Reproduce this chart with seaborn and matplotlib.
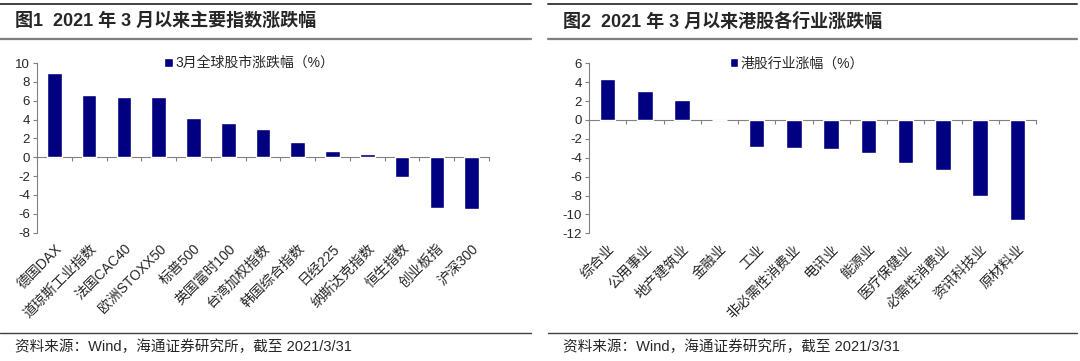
import numpy as np
import pandas as pd
import matplotlib
matplotlib.use('Agg')
import matplotlib.pyplot as plt
from matplotlib.lines import Line2D
import seaborn as sns

sns.set_style('white')
plt.rcParams['font.family'] = ['Liberation Sans', 'Noto Sans CJK SC']
plt.rcParams['axes.unicode_minus'] = False

# data
idx_names = ['德国DAX', '道琼斯工业指数', '法国CAC40', '欧洲STOXX50', '标普500', '英国富时100',
             '台湾加权指数', '韩国综合指数', '日经225', '纳斯达克指数', '恒生指数', '创业板指', '沪深300']
idx_chg = [8.9, 6.6, 6.4, 6.35, 4.2, 3.6, 3.0, 1.6, 0.7, 0.4, -2.1, -5.4, -5.45]
ind_names = ['综合业', '公用事业', '地产建筑业', '金融业', '工业', '非必需性消费业', '电讯业',
             '能源业', '医疗保健业', '必需性消费业', '资讯科技业', '原材料业']
ind_chg = [4.3, 3.1, 2.1, -0.05, -2.9, -3.0, -3.1, -3.5, -4.55, -5.3, -8.0, -10.6]

titles = ['图1  2021 年 3 月以来主要指数涨跌幅', '图2  2021 年 3 月以来港股各行业涨跌幅']
legends = ['3月全球股市涨跌幅（%）', '港股行业涨幅（%）']
source = '资料来源：Wind，海通证券研究所，截至 2021/3/31'

fig = plt.figure(figsize=(10.8, 3.61), dpi=100)
W, H = 1080, 361

axes_px = [(37, 63, 489, 232.7), (589, 63.3, 1036, 233.3)]
ylims = [(-8, 10), (-12, 6)]
datas = [(idx_names, idx_chg), (ind_names, ind_chg)]
panels = [(0, 531), (548, 1077)]

for k in range(2):
    x0, y0, x1, y1 = axes_px[k]
    ax = fig.add_axes([x0 / W, 1 - y1 / H, (x1 - x0) / W, (y1 - y0) / H])
    names, vals = datas[k]
    df = pd.DataFrame({'name': names, 'chg': vals})
    sns.barplot(data=df, x='name', y='chg', color='#000080', saturation=1, width=0.42,
                ax=ax, label=legends[k])
    n = len(names)
    ax.set_xlim(-0.5, n - 0.5)
    ax.set_ylim(*ylims[k])
    lo, hi = ylims[k]
    ax.set_yticks(np.arange(lo, hi + 1, 2))
    ax.set_xlabel('')
    ax.set_ylabel('')
    for s in ['top', 'right', 'bottom']:
        ax.spines[s].set_visible(False)
    ax.spines['left'].set_color('#808080')
    ax.spines['left'].set_linewidth(0.8)
    ax.tick_params(axis='y', left=True, length=3, width=0.8, color='#808080',
                   labelsize=9.5, pad=2)
    ax.tick_params(axis='x', bottom=False, labelsize=10, pad=3)
    plt.setp(ax.get_xticklabels(), rotation=45, ha='right', rotation_mode='anchor')
    # zero line with category boundary ticks
    sec = ax.secondary_xaxis(0, transform=ax.transData)
    sec.spines['bottom'].set_color('#808080')
    sec.spines['bottom'].set_linewidth(0.8)
    sec.set_xticks(np.arange(-0.5, n, 1.0))
    sec.tick_params(axis='x', length=3, width=0.8, color='#808080', labelbottom=False)
    ax.legend(loc='center', bbox_to_anchor=(0.47 if k == 0 else 0.465, 1.0),
              frameon=False, fontsize=10, handlelength=0.6, handleheight=0.6,
              handletextpad=0.2, borderaxespad=0)

    # panel decorations
    px0, px1 = panels[k]
    fig.add_artist(Line2D([px0 / W, px1 / W], [1 - 3.5 / H, 1 - 3.5 / H], color='#404040', lw=1.4))
    fig.add_artist(Line2D([px0 / W, px1 / W], [1 - 38.5 / H, 1 - 38.5 / H], color='#7f7f7f', lw=1.6))
    fig.add_artist(Line2D([px0 / W, px1 / W], [1 - 332.7 / H, 1 - 332.7 / H], color='#404040', lw=1.0))
    fig.text((px0 + 15) / W, 1 - 21.5 / H, titles[k], fontsize=13, fontweight='bold',
             ha='left', va='center')
    fig.text((px0 + 15) / W, 1 - 347 / H, source, fontsize=10.5, ha='left', va='center')

fig.savefig('out.png', dpi=100)
